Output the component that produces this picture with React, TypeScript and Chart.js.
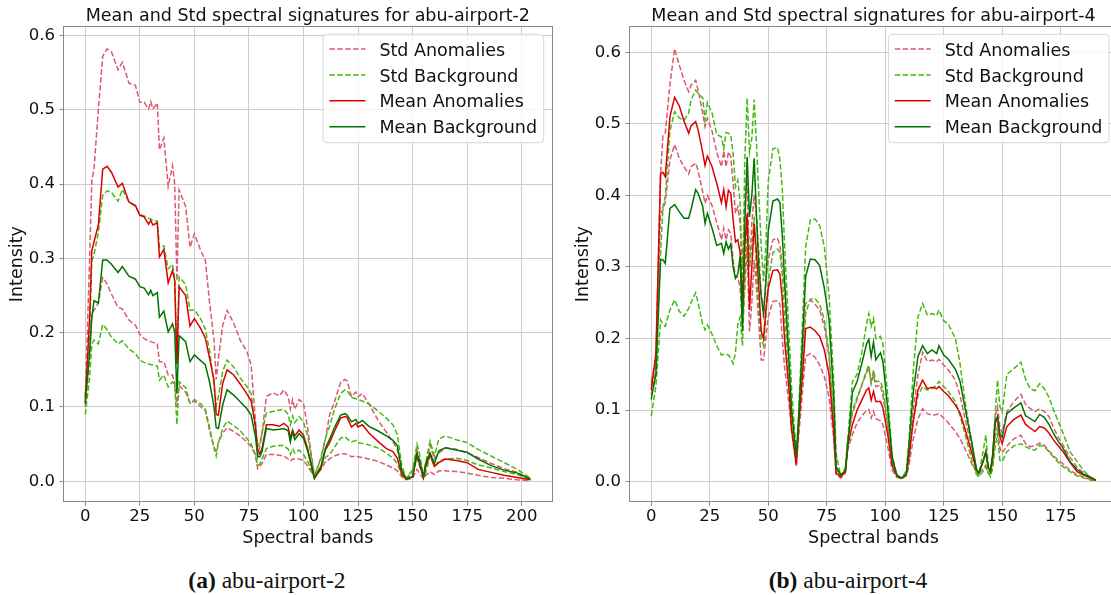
import React, { useEffect, useRef } from "react";
import { Chart, registerables } from "chart.js";

Chart.register(...registerables);

const FONT = "'DejaVu Sans', 'Noto Sans', sans-serif";
const TEXT = "#111111";
const GRID = "#cdcdcd";
const SPINE = "#8a8a8a";
const COLORS = { stdAnom: "#dc5a70", stdBg: "#44bb11", meanAnom: "#dd0000", meanBg: "#007400" };
const DASH = [5.5, 2.4];

// ---------------- abu-airport-2 ----------------
const bandsA = [
  0, 2, 3, 4, 6, 8, 10, 12, 15, 17,
  20, 23, 25, 27, 29, 30, 31, 33, 34, 36,
  38, 40, 41, 42, 43, 46, 48, 50, 53, 55,
  57, 59, 60, 61, 63, 65, 68, 71, 74, 76,
  78, 79, 80, 81, 83, 86, 89, 91, 93, 94,
  95, 96, 98, 100, 102, 105, 108, 110, 112, 114,
  117, 119, 120, 122, 124, 125, 127, 130, 134, 138,
  141, 143, 145, 147, 150, 152, 153, 155, 156, 158,
  160, 162, 165, 170, 175, 180, 186, 192, 198, 204,
];
const meanAnomA = [
  0.105, 0.22, 0.31, 0.322, 0.345, 0.42, 0.424, 0.416, 0.396, 0.401,
  0.376, 0.371, 0.358, 0.356, 0.346, 0.351, 0.345, 0.348, 0.302, 0.312,
  0.267, 0.284, 0.27, 0.158, 0.262, 0.25, 0.209, 0.219, 0.205, 0.193,
  0.165, 0.136, 0.09, 0.089, 0.132, 0.15, 0.143, 0.131, 0.118, 0.108,
  0.075, 0.042, 0.037, 0.044, 0.076, 0.076, 0.074, 0.078, 0.073, 0.058,
  0.069, 0.061, 0.069, 0.062, 0.043, 0.004, 0.017, 0.042, 0.052, 0.066,
  0.085, 0.087, 0.086, 0.073, 0.078, 0.073, 0.076, 0.065, 0.054, 0.044,
  0.04, 0.031, 0.01, 0.003, 0.006, 0.037, 0.025, 0.005, 0.02, 0.036,
  0.02, 0.025, 0.03, 0.028, 0.025, 0.016, 0.012, 0.008, 0.005, 0.002,
];
const meanBgA = [
  0.105, 0.172, 0.22, 0.243, 0.24, 0.298, 0.298, 0.292, 0.281, 0.289,
  0.276, 0.272, 0.262, 0.26, 0.251, 0.257, 0.25, 0.254, 0.221, 0.229,
  0.201, 0.212, 0.2, 0.118, 0.196, 0.188, 0.161, 0.17, 0.162, 0.157,
  0.133, 0.1, 0.072, 0.071, 0.103, 0.123, 0.116, 0.107, 0.098, 0.089,
  0.06, 0.033, 0.033, 0.04, 0.071, 0.069, 0.07, 0.071, 0.068, 0.053,
  0.067, 0.056, 0.064, 0.058, 0.04, 0.004, 0.02, 0.044, 0.057, 0.071,
  0.089, 0.091, 0.089, 0.08, 0.083, 0.078, 0.082, 0.074, 0.068, 0.061,
  0.055, 0.048, 0.015, 0.003, 0.006, 0.037, 0.03, 0.006, 0.024, 0.038,
  0.024, 0.041, 0.045, 0.042, 0.039, 0.03, 0.021, 0.015, 0.011, 0.003,
];
const stdBgHiA = [
  0.115, 0.2, 0.297, 0.305, 0.335, 0.385, 0.391, 0.389, 0.377, 0.393,
  0.376, 0.37, 0.359, 0.357, 0.354, 0.353, 0.351, 0.35, 0.315, 0.317,
  0.286, 0.292, 0.272, 0.158, 0.275, 0.265, 0.23, 0.231, 0.218, 0.205,
  0.175, 0.13, 0.102, 0.114, 0.148, 0.163, 0.154, 0.139, 0.128, 0.118,
  0.07, 0.047, 0.052, 0.065, 0.092, 0.094, 0.096, 0.097, 0.09, 0.076,
  0.088, 0.079, 0.087, 0.08, 0.06, 0.007, 0.03, 0.058, 0.074, 0.095,
  0.118, 0.123, 0.122, 0.113, 0.111, 0.11, 0.108, 0.104, 0.095, 0.085,
  0.076, 0.063, 0.022, 0.004, 0.015, 0.05, 0.04, 0.007, 0.025, 0.054,
  0.034, 0.057, 0.061, 0.056, 0.052, 0.043, 0.034, 0.025, 0.016, 0.004,
];
const stdBgLoA = [
  0.09, 0.14, 0.185, 0.19, 0.185, 0.211, 0.204, 0.194, 0.185, 0.189,
  0.178, 0.172, 0.163, 0.16, 0.158, 0.157, 0.157, 0.155, 0.136, 0.143,
  0.127, 0.134, 0.129, 0.076, 0.134, 0.126, 0.105, 0.11, 0.104, 0.097,
  0.072, 0.045, 0.034, 0.052, 0.071, 0.081, 0.075, 0.068, 0.058, 0.05,
  0.036, 0.021, 0.023, 0.03, 0.044, 0.047, 0.048, 0.048, 0.043, 0.036,
  0.044, 0.038, 0.042, 0.036, 0.026, 0.005, 0.02, 0.032, 0.036, 0.045,
  0.058, 0.06, 0.057, 0.053, 0.055, 0.052, 0.051, 0.049, 0.045, 0.038,
  0.031, 0.024, 0.008, 0.003, 0.01, 0.031, 0.022, 0.006, 0.012, 0.034,
  0.02, 0.027, 0.03, 0.031, 0.028, 0.022, 0.018, 0.013, 0.009, 0.003,
];
const stdAnomHiA = [
  0.112, 0.3, 0.405, 0.42, 0.5, 0.572, 0.582, 0.578, 0.554, 0.564,
  0.536, 0.533, 0.51, 0.51, 0.501, 0.511, 0.501, 0.509, 0.446, 0.462,
  0.397, 0.425, 0.4, 0.27, 0.392, 0.37, 0.315, 0.333, 0.31, 0.298,
  0.24, 0.19, 0.137, 0.165, 0.21, 0.23, 0.213, 0.19, 0.175, 0.157,
  0.08, 0.034, 0.047, 0.065, 0.114, 0.119, 0.115, 0.123, 0.114, 0.097,
  0.11, 0.097, 0.11, 0.105, 0.07, 0.007, 0.032, 0.056, 0.09, 0.105,
  0.133, 0.137, 0.135, 0.114, 0.12, 0.114, 0.118, 0.104, 0.083, 0.066,
  0.053, 0.043, 0.016, 0.003, 0.015, 0.043, 0.03, 0.004, 0.02, 0.049,
  0.03, 0.038, 0.045, 0.043, 0.038, 0.032, 0.024, 0.017, 0.012, 0.003,
];
const stdAnomLoA = [
  0.1, 0.17, 0.225, 0.23, 0.24, 0.274, 0.266, 0.252, 0.234, 0.232,
  0.217, 0.21, 0.198, 0.192, 0.189, 0.188, 0.187, 0.185, 0.161, 0.161,
  0.143, 0.143, 0.132, 0.1, 0.129, 0.12, 0.105, 0.108, 0.1, 0.095,
  0.068, 0.045, 0.041, 0.052, 0.065, 0.072, 0.067, 0.061, 0.053, 0.047,
  0.035, 0.017, 0.02, 0.024, 0.036, 0.036, 0.035, 0.034, 0.03, 0.027,
  0.03, 0.03, 0.03, 0.028, 0.02, 0.006, 0.016, 0.026, 0.03, 0.034,
  0.037, 0.037, 0.036, 0.033, 0.034, 0.033, 0.032, 0.03, 0.027, 0.022,
  0.018, 0.014, 0.006, 0.002, 0.004, 0.016, 0.012, 0.003, 0.008, 0.013,
  0.009, 0.014, 0.014, 0.013, 0.011, 0.008, 0.005, 0.004, 0.002, 0.001,
];
const xTicksA = [0, 25, 50, 75, 100, 125, 150, 175, 200];

// ---------------- abu-airport-4 ----------------
const bandsB = [
  0, 2, 4, 5, 6, 8, 10, 12, 14, 16,
  17, 19, 20, 22, 23, 24, 26, 28, 30, 31,
  32, 33, 34, 35, 36, 37, 38, 39, 40, 41,
  42, 43, 44, 45, 46, 47, 48, 49, 50, 52,
  54, 55, 56, 57, 59, 60, 62, 63, 65, 66,
  68, 70, 72, 74, 76, 78, 79, 81, 83, 84,
  86, 88, 90, 92, 93, 94, 95, 96, 98, 99,
  101, 103, 105, 107, 109, 110, 112, 114, 116, 118,
  120, 122, 123, 125, 127, 130, 132, 134, 137, 139,
  140, 142, 143, 144, 145, 146, 147, 148, 149, 150,
  152, 155, 158, 160, 162, 164, 166, 168, 170, 172,
  174, 176, 179, 182, 185, 188, 190,
];
const meanAnomB = [
  0.128, 0.179, 0.431, 0.432, 0.426, 0.51, 0.537, 0.525, 0.504, 0.487,
  0.497, 0.503, 0.492, 0.46, 0.442, 0.455, 0.44, 0.417, 0.39, 0.408,
  0.384, 0.407, 0.403, 0.366, 0.335, 0.338, 0.32, 0.25, 0.33, 0.375,
  0.24, 0.3, 0.36, 0.32, 0.27, 0.21, 0.2, 0.24, 0.27, 0.295,
  0.296, 0.29, 0.255, 0.198, 0.124, 0.073, 0.024, 0.077, 0.165, 0.214,
  0.216, 0.211, 0.203, 0.184, 0.15, 0.07, 0.012, 0.007, 0.014, 0.05,
  0.08, 0.1, 0.114, 0.128, 0.131, 0.114, 0.126, 0.112, 0.112, 0.103,
  0.068, 0.022, 0.008, 0.005, 0.01, 0.03, 0.085, 0.128, 0.142, 0.13,
  0.132, 0.13, 0.133, 0.126, 0.12, 0.107, 0.096, 0.075, 0.04, 0.016,
  0.012, 0.03, 0.042, 0.02, 0.016, 0.035, 0.081, 0.091, 0.063, 0.053,
  0.077, 0.087, 0.093, 0.08, 0.075, 0.07, 0.077, 0.075, 0.068, 0.058,
  0.05, 0.042, 0.027, 0.014, 0.009, 0.005, 0.002,
];
const meanBgB = [
  0.115, 0.15, 0.31, 0.31, 0.305, 0.382, 0.387, 0.377, 0.368, 0.368,
  0.38, 0.408, 0.403, 0.385, 0.361, 0.375, 0.354, 0.33, 0.333, 0.319,
  0.335, 0.325, 0.332, 0.3, 0.284, 0.29, 0.315, 0.21, 0.36, 0.454,
  0.37, 0.4, 0.452, 0.37, 0.3, 0.26, 0.235, 0.28, 0.35, 0.392,
  0.395, 0.39, 0.345, 0.282, 0.161, 0.1, 0.035, 0.087, 0.22, 0.287,
  0.311, 0.31, 0.302, 0.27, 0.226, 0.12, 0.021, 0.01, 0.015, 0.049,
  0.125, 0.14, 0.165, 0.192, 0.199, 0.175, 0.195, 0.17, 0.18, 0.168,
  0.105, 0.035, 0.008, 0.005, 0.01, 0.045, 0.125, 0.175, 0.19, 0.179,
  0.184, 0.179, 0.19, 0.177, 0.171, 0.157, 0.14, 0.105, 0.055, 0.018,
  0.012, 0.03, 0.042, 0.02, 0.014, 0.04, 0.085, 0.09, 0.067, 0.062,
  0.095, 0.103, 0.11, 0.092, 0.088, 0.084, 0.094, 0.09, 0.08, 0.067,
  0.056, 0.047, 0.028, 0.017, 0.01, 0.006, 0.002,
];
const stdBgHiB = [
  0.14, 0.17, 0.319, 0.384, 0.398, 0.49, 0.517, 0.508, 0.505, 0.515,
  0.533, 0.547, 0.543, 0.536, 0.505, 0.53, 0.515, 0.485, 0.482, 0.465,
  0.488, 0.487, 0.484, 0.459, 0.412, 0.421, 0.39, 0.25, 0.45, 0.536,
  0.46, 0.48, 0.534, 0.47, 0.4, 0.33, 0.28, 0.33, 0.42, 0.465,
  0.467, 0.45, 0.41, 0.33, 0.198, 0.13, 0.038, 0.096, 0.25, 0.328,
  0.366, 0.367, 0.358, 0.328, 0.26, 0.14, 0.04, 0.007, 0.02, 0.059,
  0.14, 0.15, 0.18, 0.22, 0.235, 0.217, 0.228, 0.2, 0.203, 0.193,
  0.124, 0.035, 0.01, 0.005, 0.015, 0.05, 0.155, 0.23, 0.249, 0.233,
  0.235, 0.232, 0.24, 0.225, 0.22, 0.2, 0.165, 0.115, 0.055, 0.015,
  0.009, 0.045, 0.065, 0.025, 0.009, 0.028, 0.095, 0.142, 0.105, 0.097,
  0.15, 0.158, 0.167, 0.143, 0.13, 0.127, 0.137, 0.13, 0.118, 0.1,
  0.084, 0.068, 0.042, 0.028, 0.015, 0.004, 0.002,
];
const stdBgLoB = [
  0.092, 0.133, 0.226, 0.22, 0.217, 0.24, 0.254, 0.238, 0.231, 0.242,
  0.25, 0.264, 0.25, 0.22, 0.212, 0.219, 0.206, 0.19, 0.177, 0.178,
  0.178, 0.177, 0.172, 0.165, 0.18, 0.22, 0.23, 0.19, 0.29, 0.37,
  0.3, 0.33, 0.37, 0.29, 0.24, 0.2, 0.19, 0.23, 0.28, 0.32,
  0.325, 0.32, 0.29, 0.23, 0.133, 0.075, 0.031, 0.073, 0.18, 0.235,
  0.255, 0.256, 0.248, 0.226, 0.18, 0.09, 0.02, 0.007, 0.015, 0.06,
  0.1, 0.118, 0.135, 0.155, 0.163, 0.138, 0.156, 0.14, 0.14, 0.13,
  0.085, 0.025, 0.008, 0.005, 0.012, 0.035, 0.085, 0.12, 0.133, 0.128,
  0.13, 0.135, 0.14, 0.133, 0.126, 0.112, 0.092, 0.068, 0.03, 0.01,
  0.007, 0.015, 0.021, 0.012, 0.007, 0.02, 0.049, 0.067, 0.03, 0.028,
  0.042, 0.05, 0.053, 0.049, 0.046, 0.044, 0.051, 0.049, 0.042, 0.034,
  0.027, 0.021, 0.014, 0.008, 0.005, 0.002, 0.002,
];
const stdAnomHiB = [
  0.135, 0.17, 0.43, 0.484, 0.487, 0.555, 0.605, 0.582, 0.561, 0.545,
  0.554, 0.561, 0.547, 0.515, 0.496, 0.508, 0.49, 0.46, 0.44, 0.462,
  0.44, 0.461, 0.454, 0.417, 0.375, 0.384, 0.36, 0.3, 0.39, 0.42,
  0.3, 0.36, 0.4, 0.37, 0.32, 0.26, 0.23, 0.28, 0.31, 0.338,
  0.34, 0.33, 0.3, 0.27, 0.152, 0.095, 0.028, 0.087, 0.2, 0.249,
  0.254, 0.248, 0.24, 0.217, 0.175, 0.08, 0.017, 0.007, 0.017, 0.06,
  0.095, 0.115, 0.135, 0.152, 0.159, 0.138, 0.149, 0.133, 0.135, 0.12,
  0.08, 0.028, 0.01, 0.005, 0.012, 0.035, 0.1, 0.15, 0.181, 0.168,
  0.17, 0.168, 0.171, 0.163, 0.156, 0.142, 0.12, 0.09, 0.048, 0.017,
  0.012, 0.03, 0.04, 0.018, 0.016, 0.04, 0.091, 0.105, 0.077, 0.068,
  0.098, 0.112, 0.122, 0.108, 0.102, 0.098, 0.102, 0.098, 0.091, 0.075,
  0.062, 0.051, 0.034, 0.02, 0.012, 0.006, 0.002,
];
const stdAnomLoB = [
  0.122, 0.156, 0.375, 0.38, 0.39, 0.45, 0.471, 0.452, 0.44, 0.43,
  0.44, 0.445, 0.435, 0.405, 0.389, 0.4, 0.386, 0.362, 0.338, 0.354,
  0.338, 0.352, 0.347, 0.31, 0.286, 0.286, 0.27, 0.22, 0.27, 0.33,
  0.21, 0.25, 0.31, 0.27, 0.22, 0.17, 0.17, 0.2, 0.23, 0.252,
  0.253, 0.248, 0.2, 0.16, 0.105, 0.07, 0.021, 0.063, 0.14, 0.175,
  0.179, 0.174, 0.163, 0.147, 0.118, 0.06, 0.01, 0.005, 0.012, 0.045,
  0.066, 0.082, 0.092, 0.099, 0.101, 0.089, 0.098, 0.088, 0.085, 0.08,
  0.05, 0.016, 0.006, 0.004, 0.008, 0.02, 0.06, 0.088, 0.102, 0.095,
  0.093, 0.094, 0.095, 0.089, 0.082, 0.07, 0.06, 0.047, 0.025, 0.013,
  0.012, 0.018, 0.023, 0.013, 0.012, 0.03, 0.063, 0.077, 0.047, 0.04,
  0.05, 0.06, 0.065, 0.053, 0.049, 0.05, 0.054, 0.051, 0.043, 0.036,
  0.03, 0.025, 0.016, 0.01, 0.006, 0.003, 0.002,
];
const xTicksB = [0, 25, 50, 75, 100, 125, 150, 175];

const yTicks = [0, 0.1, 0.2, 0.3, 0.4, 0.5, 0.6];

const LEGEND = [
  { label: "Std Anomalies", color: COLORS.stdAnom, dashed: true },
  { label: "Std Background", color: COLORS.stdBg, dashed: true },
  { label: "Mean Anomalies", color: COLORS.meanAnom, dashed: false },
  { label: "Mean Background", color: COLORS.meanBg, dashed: false },
];

type Spec = {
  title: string;
  bands: number[];
  meanAnom: number[];
  meanBg: number[];
  stdBgHi: number[];
  stdBgLo: number[];
  stdAnomHi: number[];
  stdAnomLo: number[];
  xMin: number;
  xMax: number;
  yMin: number;
  yMax: number;
  xTicks: number[];
  padRight: number;
};

const specA: Spec = {
  title: "Mean and Std spectral signatures for abu-airport-2",
  bands: bandsA,
  meanAnom: meanAnomA,
  meanBg: meanBgA,
  stdBgHi: stdBgHiA,
  stdBgLo: stdBgLoA,
  stdAnomHi: stdAnomHiA,
  stdAnomLo: stdAnomLoA,
  xMin: -10.2,
  xMax: 214.2,
  yMin: -0.0283,
  yMax: 0.6128,
  xTicks: xTicksA,
  padRight: 7.3,
};

const specB: Spec = {
  title: "Mean and Std spectral signatures for abu-airport-4",
  bands: bandsB,
  meanAnom: meanAnomB,
  meanBg: meanBgB,
  stdBgHi: stdBgHiB,
  stdBgLo: stdBgLoB,
  stdAnomHi: stdAnomHiB,
  stdAnomLo: stdAnomLoB,
  xMin: -9.5,
  xMax: 199.5,
  yMin: -0.0288,
  yMax: 0.6367,
  xTicks: xTicksB,
  padRight: 8,
};

const W = 560;
const H = 560;
const Y_AXIS_W = 63;
const PLOT_BOTTOM = 502.3;

function buildChart(canvas: HTMLCanvasElement, s: Spec) {
  const pts = (vals: number[]) => s.bands.map((b, i) => ({ x: b, y: vals[i] }));
  const line = (label: string, vals: number[], color: string, dashed: boolean) => ({
    label,
    data: pts(vals),
    borderColor: color,
    backgroundColor: color,
    borderWidth: 1.5,
    borderDash: dashed ? DASH : [],
    pointRadius: 0,
    pointHoverRadius: 0,
    tension: 0,
    fill: false,
  });
  // index 0 is drawn on top
  const datasets = [
    line("Mean Background", s.meanBg, COLORS.meanBg, false),
    line("Mean Anomalies", s.meanAnom, COLORS.meanAnom, false),
    line("Std Background", s.stdBgHi, COLORS.stdBg, true),
    line("Std Background", s.stdBgLo, COLORS.stdBg, true),
    line("Std Anomalies", s.stdAnomHi, COLORS.stdAnom, true),
    line("Std Anomalies", s.stdAnomLo, COLORS.stdAnom, true),
  ];

  const framePlugin = {
    id: "frameBox",
    afterDatasetsDraw(chart: any) {
      const { ctx, chartArea: a } = chart;
      ctx.save();
      ctx.strokeStyle = SPINE;
      ctx.lineWidth = 1;
      const l = Math.round(a.left) + 0.5;
      const t = Math.round(a.top) + 0.5;
      const r = Math.round(a.right) - 0.5;
      const b = Math.round(a.bottom) - 0.5;
      ctx.strokeRect(l, t, r - l, b - t);
      ctx.restore();
    },
  };

  const titlePlugin = {
    id: "plotTitle",
    afterDraw(chart: any) {
      const { ctx, chartArea: a } = chart;
      ctx.save();
      ctx.font = `17.5px ${FONT}`;
      ctx.fillStyle = TEXT;
      ctx.textAlign = "center";
      ctx.textBaseline = "alphabetic";
      ctx.fillText(s.title, (a.left + a.right) / 2, 21);
      ctx.restore();
    },
  };

  const legendPlugin = {
    id: "boxLegend",
    afterDraw(chart: any) {
      const { ctx, chartArea: a } = chart;
      const w = 220.6;
      const h = 108.4;
      const x = a.right - 9 - w;
      const y = a.top + 8.3;
      const r = 4;
      ctx.save();
      ctx.beginPath();
      ctx.moveTo(x + r, y);
      ctx.lineTo(x + w - r, y);
      ctx.arcTo(x + w, y, x + w, y + r, r);
      ctx.lineTo(x + w, y + h - r);
      ctx.arcTo(x + w, y + h, x + w - r, y + h, r);
      ctx.lineTo(x + r, y + h);
      ctx.arcTo(x, y + h, x, y + h - r, r);
      ctx.lineTo(x, y + r);
      ctx.arcTo(x, y, x + r, y, r);
      ctx.closePath();
      ctx.fillStyle = "rgba(255,255,255,0.8)";
      ctx.fill();
      ctx.strokeStyle = "#d6d6d6";
      ctx.lineWidth = 1;
      ctx.stroke();
      LEGEND.forEach((it, i) => {
        const cy = y + 14.7 + i * 25.9;
        ctx.strokeStyle = it.color;
        ctx.lineWidth = 1.5;
        ctx.setLineDash(it.dashed ? DASH : []);
        ctx.beginPath();
        ctx.moveTo(x + 6.3, cy);
        ctx.lineTo(x + 42.3, cy);
        ctx.stroke();
        ctx.setLineDash([]);
        ctx.fillStyle = TEXT;
        ctx.font = `17.5px ${FONT}`;
        ctx.textAlign = "left";
        ctx.textBaseline = "alphabetic";
        ctx.fillText(it.label, x + 56.3, cy + 6.6);
      });
      ctx.restore();
    },
  };

  const tickFont = { family: FONT, size: 16.5 };
  const titleFont = { family: FONT, size: 17.5 };

  return new Chart(canvas, {
    type: "line",
    data: { datasets: datasets as any },
    plugins: [framePlugin, legendPlugin, titlePlugin],
    options: {
      responsive: false,
      animation: false,
      devicePixelRatio: 1,
      layout: { padding: { left: 0, right: s.padRight, top: 26, bottom: 0 } },
      plugins: {
        legend: { display: false },
        tooltip: { enabled: false },
        title: { display: false },
      },
      events: [],
      scales: {
        x: {
          type: "linear",
          min: s.xMin,
          max: s.xMax,
          afterBuildTicks: (sc: any) => {
            sc.ticks = s.xTicks.map((v) => ({ value: v }));
          },
          afterFit: (sc: any) => {
            sc.height = H - PLOT_BOTTOM;
          },
          border: { display: false },
          grid: { color: GRID, lineWidth: 1, drawTicks: true, tickLength: 3.5, tickColor: SPINE },
          ticks: {
            font: tickFont,
            color: TEXT,
            padding: 1,
            maxRotation: 0,
            autoSkip: false,
            callback: (v: any) => String(v),
          },
          title: {
            display: true,
            text: "Spectral bands",
            font: titleFont,
            color: TEXT,
            padding: { top: 0, bottom: 11.5 },
          },
        },
        y: {
          type: "linear",
          min: s.yMin,
          max: s.yMax,
          afterBuildTicks: (sc: any) => {
            sc.ticks = yTicks.map((v) => ({ value: v }));
          },
          afterFit: (sc: any) => {
            sc.width = Y_AXIS_W;
          },
          border: { display: false },
          grid: { color: GRID, lineWidth: 1, drawTicks: true, tickLength: 3.5, tickColor: SPINE },
          ticks: {
            font: tickFont,
            color: TEXT,
            padding: 4.5,
            autoSkip: false,
            callback: (v: any) => Number(v).toFixed(1),
          },
          title: {
            display: true,
            text: "Intensity",
            font: titleFont,
            color: TEXT,
            padding: { top: 7.3, bottom: 0 },
          },
        },
      },
    } as any,
  });
}

function SpectralChart({ spec, left }: { spec: Spec; left: number }) {
  const ref = useRef<HTMLCanvasElement | null>(null);
  useEffect(() => {
    if (!ref.current) return;
    const chart = buildChart(ref.current, spec);
    return () => chart.destroy();
  }, [spec]);
  return (
    <canvas
      ref={ref}
      width={W}
      height={H}
      style={{ position: "absolute", left, top: 0, width: W, height: H }}
    />
  );
}

function Caption({ x, letter, text }: { x: number; letter: string; text: string }) {
  return (
    <div
      style={{
        position: "absolute",
        left: x - 200,
        top: 566,
        width: 400,
        height: 28,
        lineHeight: "28px",
        textAlign: "center",
        fontFamily: "'Liberation Serif', 'DejaVu Serif', serif",
        fontSize: 23.5,
        color: "#111",
        whiteSpace: "nowrap",
      }}
    >
      <b>{letter}</b> {text}
    </div>
  );
}

export default function App() {
  return (
    <div
      style={{
        position: "absolute",
        left: 0,
        top: 0,
        width: 1111,
        height: 595,
        overflow: "hidden",
        background: "#ffffff",
      }}
    >
      <SpectralChart spec={specA} left={0} />
      <SpectralChart spec={specB} left={566} />
      <Caption x={267} letter="(a)" text="abu-airport-2" />
      <Caption x={848} letter="(b)" text="abu-airport-4" />
    </div>
  );
}
